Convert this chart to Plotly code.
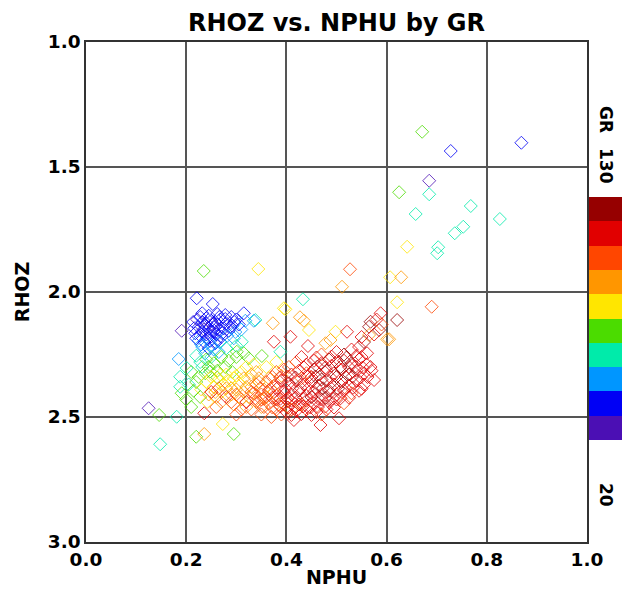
import plotly.graph_objects as go

# ---- data (NPHU, RHOZ, GR) ----
nphu = [
    # blue cluster
    0.221, 0.253, 0.191, 0.315, 0.232, 0.245, 0.262, 0.278, 0.290, 0.300, 0.305, 0.222, 0.232, 0.240, 0.250, 0.258,
    0.268, 0.280, 0.292, 0.225, 0.235, 0.245, 0.255, 0.265, 0.275, 0.285, 0.298, 0.218, 0.228, 0.240, 0.250, 0.260,
    0.270, 0.282, 0.225, 0.236, 0.248, 0.258, 0.268, 0.232, 0.245, 0.255, 0.238, 0.214, 0.318, 0.310, 0.295, 0.240,
    0.228, 0.238, 0.248, 0.262, 0.272, 0.252, 0.242, 0.232, 0.262, 0.278, 0.288, 0.296, 0.220, 0.230, 0.250, 0.216,
    0.266, 0.256,
    # sky / aqua
    0.185, 0.201, 0.311, 0.338, 0.335, 0.220, 0.265, 0.280, 0.300, 0.250, 0.228, 0.388, 0.433,
    # green
    0.235, 0.301, 0.351, 0.240, 0.255, 0.270, 0.285, 0.300, 0.315, 0.325, 0.245, 0.262, 0.278, 0.292, 0.210, 0.225,
    0.188, 0.188, 0.191, 0.205, 0.215, 0.146, 0.220, 0.295, 0.200, 0.210,
    0.232, 0.248, 0.262, 0.238, 0.220, 0.228,
    # aqua stragglers
    0.181, 0.148, 0.125,
    # yellow
    0.344, 0.395, 0.398, 0.445, 0.273, 0.280, 0.295, 0.310, 0.320, 0.335, 0.265, 0.250, 0.240, 0.305, 0.325, 0.340,
    0.360, 0.230, 0.255, 0.270, 0.380, 0.498, 0.607, 0.621, 0.641,
    0.268, 0.285, 0.300, 0.275, 0.242,
    # orange
    0.373, 0.427, 0.435, 0.511, 0.236, 0.629, 0.605, 0.601, 0.565, 0.488, 0.478, 0.245, 0.260, 0.280, 0.290, 0.300,
    0.315, 0.330, 0.345, 0.355, 0.310, 0.325, 0.340, 0.360, 0.375, 0.270, 0.295, 0.320, 0.350, 0.385, 0.400, 0.410,
    0.430, 0.365, 0.390,
    0.315, 0.330, 0.345, 0.258, 0.290, 0.305, 0.320, 0.335, 0.350,
    # red cluster
    0.521, 0.443, 0.408, 0.375, 0.561, 0.530, 0.545, 0.555, 0.500, 0.515, 0.540, 0.470,
    0.588, 0.568, 0.585, 0.565, 0.621, 0.580, 0.575, 0.590, 0.550, 0.527, 0.690,
    0.420, 0.440, 0.455, 0.470, 0.485, 0.500, 0.515, 0.530, 0.545, 0.560, 0.490, 0.525,
    0.380, 0.395, 0.410, 0.425, 0.440, 0.455, 0.465, 0.480, 0.495, 0.510, 0.525, 0.540, 0.555, 0.570, 0.575, 0.450, 0.500,
    0.340, 0.360, 0.375, 0.390, 0.405, 0.420, 0.435, 0.450, 0.465, 0.480, 0.495, 0.510, 0.525, 0.540, 0.555, 0.430, 0.470,
    0.330, 0.350, 0.365, 0.380, 0.395, 0.410, 0.425, 0.440, 0.455, 0.470, 0.485, 0.500, 0.515, 0.530, 0.545, 0.460,
    0.345, 0.365, 0.380, 0.395, 0.410, 0.425, 0.440, 0.455, 0.470, 0.485, 0.500, 0.515, 0.450,
    0.380, 0.400, 0.420, 0.440, 0.460, 0.480, 0.415, 0.468, 0.505, 0.236, 0.350, 0.370,
    0.290, 0.310, 0.330, 0.300, 0.260, 0.250, 0.265, 0.280, 0.300, 0.320,
    0.430, 0.460, 0.490, 0.520, 0.550,
    0.405, 0.435, 0.462, 0.478, 0.508, 0.538, 0.552, 0.568,
    0.372, 0.388, 0.402, 0.418, 0.442, 0.458, 0.488, 0.518, 0.532, 0.548, 0.562,
    0.348, 0.368, 0.383, 0.398, 0.412, 0.428, 0.443, 0.473, 0.488, 0.503, 0.518, 0.533, 0.550,
    0.338, 0.355, 0.372, 0.388, 0.403, 0.418, 0.433, 0.463, 0.478, 0.493, 0.508, 0.525,
    0.355, 0.372, 0.388, 0.403, 0.418, 0.433, 0.448, 0.463, 0.478, 0.495,
    0.390, 0.410, 0.430, 0.450, 0.470,
    # upper outliers
    0.671, 0.728, 0.869, 0.685, 0.625, 0.685, 0.658, 0.768, 0.826, 0.753, 0.736, 0.703, 0.701,
]

rhoz = [
    # blue cluster
    2.025, 2.048, 2.155, 2.085, 2.085, 2.095, 2.088, 2.092, 2.100, 2.110, 2.130, 2.110, 2.120, 2.125, 2.115, 2.120,
    2.110, 2.125, 2.135, 2.140, 2.150, 2.145, 2.140, 2.150, 2.145, 2.155, 2.160, 2.165, 2.175, 2.170, 2.178, 2.170,
    2.180, 2.175, 2.195, 2.200, 2.195, 2.205, 2.200, 2.220, 2.225, 2.230, 2.245, 2.120, 2.115, 2.150, 2.185, 2.105,
    2.100, 2.135, 2.160, 2.130, 2.165, 2.128, 2.185, 2.160, 2.190, 2.108, 2.140, 2.120, 2.185, 2.210, 2.212, 2.145,
    2.100, 2.155,
    # sky / aqua
    2.268, 2.304, 2.199, 2.112, 2.115, 2.255, 2.240, 2.225, 2.215, 2.260, 2.280, 2.239, 2.029,
    # green
    1.916, 2.239, 2.256, 2.270, 2.285, 2.260, 2.275, 2.260, 2.245, 2.265, 2.300, 2.315, 2.300, 2.320, 2.320, 2.340,
    2.339, 2.379, 2.405, 2.370, 2.395, 2.492, 2.579, 2.568, 2.430, 2.460,
    2.300, 2.318, 2.342, 2.325, 2.360, 2.420,
    # aqua stragglers
    2.499, 2.609, 2.465,
    # yellow
    1.908, 2.065, 2.069, 2.152, 2.528, 2.330, 2.345, 2.320, 2.300, 2.290, 2.350, 2.340, 2.360, 2.365, 2.350, 2.320,
    2.300, 2.390, 2.380, 2.400, 2.280, 2.159, 1.941, 2.041, 1.819,
    2.330, 2.355, 2.335, 2.370, 2.440,
    # orange
    2.125, 2.101, 2.115, 1.979, 2.568, 1.941, 2.189, 2.189, 2.172, 2.192, 2.205, 2.410, 2.420, 2.385, 2.410, 2.390,
    2.400, 2.380, 2.360, 2.390, 2.430, 2.420, 2.440, 2.420, 2.400, 2.440, 2.450, 2.460, 2.460, 2.450, 2.430, 2.470,
    2.450, 2.345, 2.335,
    2.345, 2.330, 2.345, 2.400, 2.385, 2.420, 2.380, 2.405, 2.430,
    # red cluster
    2.159, 2.216, 2.179, 2.199, 2.245, 2.230, 2.220, 2.200, 2.240, 2.250, 2.255, 2.250,
    2.085, 2.119, 2.152, 2.139, 2.112, 2.110, 2.170, 2.130, 2.180, 1.909, 2.059,
    2.280, 2.290, 2.275, 2.285, 2.270, 2.280, 2.275, 2.285, 2.270, 2.290, 2.295, 2.300,
    2.320, 2.310, 2.330, 2.315, 2.325, 2.310, 2.330, 2.315, 2.325, 2.310, 2.330, 2.315, 2.325, 2.315, 2.352, 2.340, 2.340,
    2.370, 2.360, 2.375, 2.355, 2.365, 2.355, 2.370, 2.360, 2.375, 2.355, 2.370, 2.360, 2.375, 2.355, 2.370, 2.345, 2.350,
    2.400, 2.410, 2.395, 2.415, 2.400, 2.410, 2.395, 2.415, 2.400, 2.410, 2.395, 2.410, 2.395, 2.405, 2.395, 2.385,
    2.440, 2.445, 2.430, 2.450, 2.435, 2.450, 2.435, 2.445, 2.430, 2.440, 2.430, 2.445, 2.420,
    2.470, 2.480, 2.475, 2.470, 2.480, 2.470, 2.512, 2.532, 2.505, 2.485, 2.490, 2.500,
    2.440, 2.470, 2.470, 2.490, 2.460, 2.400, 2.385, 2.420, 2.410, 2.440,
    2.260, 2.262, 2.258, 2.262, 2.260,
    2.300, 2.302, 2.298, 2.302, 2.300, 2.298, 2.302, 2.300,
    2.340, 2.342, 2.338, 2.342, 2.340, 2.338, 2.342, 2.340, 2.338, 2.342, 2.340,
    2.385, 2.387, 2.383, 2.387, 2.385, 2.383, 2.387, 2.385, 2.383, 2.387, 2.385, 2.383, 2.387,
    2.425, 2.427, 2.423, 2.427, 2.425, 2.423, 2.427, 2.425, 2.423, 2.427, 2.425, 2.423,
    2.460, 2.462, 2.458, 2.462, 2.460, 2.458, 2.462, 2.460, 2.458, 2.462,
    2.490, 2.492, 2.488, 2.492, 2.490,
    # upper outliers
    1.359, 1.436, 1.403, 1.555, 1.601, 1.609, 1.688, 1.656, 1.708, 1.739, 1.765, 1.821, 1.845,
]

gr = [
    # blue cluster
    35, 36, 27, 37, 33, 34, 38, 36, 40, 38, 36, 30, 32, 35, 31, 34,
    37, 39, 35, 34, 29, 33, 36, 32, 38, 41, 44, 38, 35, 31, 34, 37,
    36, 45, 42, 36, 39, 33, 46, 47, 40, 44, 50, 31, 42, 50, 52, 36,
    34, 36, 32, 35, 38, 30, 37, 33, 40, 36, 38, 41, 40, 45, 42, 31,
    33, 37,
    # sky / aqua
    48, 57, 58, 55, 48, 55, 52, 56, 60, 58, 60, 58, 58,
    # green
    68, 68, 68, 66, 70, 68, 72, 66, 70, 73, 67, 71, 69, 74, 64, 66,
    60, 63, 67, 62, 68, 68, 68, 70, 66, 70,
    62, 66, 74, 70, 64, 72,
    # aqua stragglers
    58, 58, 30,
    # yellow
    80, 80, 82, 82, 82, 80, 83, 78, 80, 84, 79, 76, 81, 85, 84, 86,
    82, 78, 84, 82, 80, 84, 82, 82, 85,
    76, 78, 82, 84, 78,
    # orange
    88, 92, 93, 92, 90, 90, 92, 90, 92, 95, 96, 90, 92, 88, 94, 91,
    89, 93, 90, 94, 92, 95, 90, 96, 92, 93, 91, 94, 95, 93, 97, 92,
    95, 88, 90,
    86, 88, 92, 86, 90, 96, 94, 98, 100,
    # red cluster
    110, 108, 108, 108, 112, 118, 115, 122, 110, 120, 113, 105,
    110, 122, 124, 120, 125, 118, 116, 106, 110, 105, 100,
    104, 110, 115, 112, 122, 118, 112, 125, 116, 110, 108, 114,
    100, 104, 110, 115, 102, 118, 112, 124, 115, 110, 120, 114, 108, 112, 110, 116, 126,
    100, 103, 106, 112, 108, 118, 114, 110, 122, 116, 112, 119, 108, 115, 112, 105, 127,
    102, 104, 110, 106, 115, 112, 120, 110, 116, 113, 124, 110, 114, 106, 112, 118,
    100, 104, 110, 106, 114, 110, 118, 112, 108, 116, 112, 106, 122,
    106, 112, 108, 104, 110, 108, 108, 108, 110, 115, 104, 100,
    104, 102, 106, 100, 100, 108, 104, 110, 106, 112,
    108, 118, 114, 122, 110,
    106, 112, 120, 116, 126, 112, 118, 108,
    102, 108, 112, 120, 114, 124, 118, 110, 122, 116, 110,
    100, 104, 108, 114, 110, 118, 112, 124, 114, 120, 112, 116, 108,
    98, 104, 108, 112, 108, 116, 110, 114, 120, 110, 112, 108,
    102, 106, 110, 108, 112, 114, 110, 118, 108, 112,
    106, 110, 108, 112, 106,
    # upper outliers
    72, 35, 36, 28, 68, 58, 58, 58, 58, 58, 58, 58, 58,
]

gr_min, gr_max = 20, 130
gr_bands = [20, 31, 42, 53, 64, 75, 86, 97, 108, 119, 130]
band_colors = ["#4B0FB4", "#0000F5", "#0096FF", "#00EBAA", "#4BDC00",
               "#FFE600", "#FF9600", "#FF4600", "#E10000", "#960000"]

# discrete colour scale
cscale = []
n = len(band_colors)
for i, c in enumerate(band_colors):
    cscale.append([i / n, c])
    cscale.append([(i + 1) / n, c])

W, H = 622, 593
ML, MT, MB = 86, 42, 51
PLOT_R = 587          # right edge of the main frame (px)
CB_L = 589            # colour bar left edge (px)
CB_T, CB_B = 197, 440 # colour bar top / bottom (px)
area_w = W - ML
area_h = H - MT - MB

fig = go.Figure()
fig.add_trace(go.Scatter(
    x=nphu, y=rhoz, mode="markers",
    marker=dict(
        symbol="diamond-open", size=10, opacity=0.8,
        color=gr, colorscale=cscale, cmin=gr_min, cmax=gr_max,
        line=dict(width=1), showscale=False,
    ),
    showlegend=False, hoverinfo="x+y",
))

# colour bar drawn as a one-column heatmap on its own axes
band_mid = [(gr_bands[i] + gr_bands[i + 1]) / 2 for i in range(n)]
fig.add_trace(go.Heatmap(
    z=[[v] for v in band_mid], y=band_mid, x=[0],
    colorscale=cscale, zmin=gr_min, zmax=gr_max, showscale=False,
    xaxis="x2", yaxis="y2", hoverinfo="skip", ygap=0,
))

font = "DejaVu Sans, Arial, sans-serif"
bold = "bold"
fig.update_layout(
    width=W, height=H,
    margin=dict(l=ML, r=0, t=MT, b=MB, autoexpand=False),
    paper_bgcolor="white", plot_bgcolor="white",
    font=dict(family=font, color="black", size=18),
    title=dict(text="RHOZ vs. NPHU by GR", xref="paper", x=((ML + PLOT_R) / 2 - ML) / area_w,
               xanchor="center", y=1 - 23 / H, yanchor="middle",
               font=dict(size=24, family=font, color="black", weight=bold)),
    xaxis=dict(domain=[0, (PLOT_R - ML) / area_w], range=[0, 1], dtick=0.2, tick0=0, tickformat=".1f",
               showgrid=True, gridcolor="#555555", gridwidth=2, zeroline=False,
               showline=True, linecolor="#333333", linewidth=1.5, mirror=True,
               ticks="", tickfont=dict(size=18.5, weight=bold), automargin=False,
               title=dict(text="NPHU", font=dict(size=19, weight=bold), standoff=2)),
    yaxis=dict(domain=[0, 1], range=[3, 1], dtick=0.5, tick0=1, tickformat=".1f",
               showgrid=True, gridcolor="#555555", gridwidth=2, zeroline=False,
               showline=True, linecolor="#333333", linewidth=1.5, mirror=True,
               ticks="", tickfont=dict(size=18.5, weight=bold), automargin=False,
               title=dict(text="RHOZ", font=dict(size=19, weight=bold), standoff=13)),
    xaxis2=dict(domain=[(CB_L - ML) / area_w, 1], range=[-0.5, 0.5], visible=False,
                fixedrange=True, anchor="y2"),
    yaxis2=dict(domain=[(H - MB - CB_B) / area_h, (H - MB - CB_T) / area_h],
                range=[gr_min, gr_max], visible=False, fixedrange=True, anchor="x2"),
    annotations=[
        dict(text="GR", xref="paper", yref="paper", x=(606 - ML) / area_w, y=0.846, showarrow=False,
             textangle=90, font=dict(size=17, family=font, weight=bold), xanchor="center", yanchor="middle"),
        dict(text="130", xref="paper", yref="paper", x=(606 - ML) / area_w, y=0.752, showarrow=False,
             textangle=90, font=dict(size=17, family=font, weight=bold), xanchor="center", yanchor="middle"),
        dict(text="20", xref="paper", yref="paper", x=(606 - ML) / area_w, y=0.094, showarrow=False,
             textangle=90, font=dict(size=17, family=font, weight=bold), xanchor="center", yanchor="middle"),
    ],
)

fig.write_html("out.html", config={"displayModeBar": False})
